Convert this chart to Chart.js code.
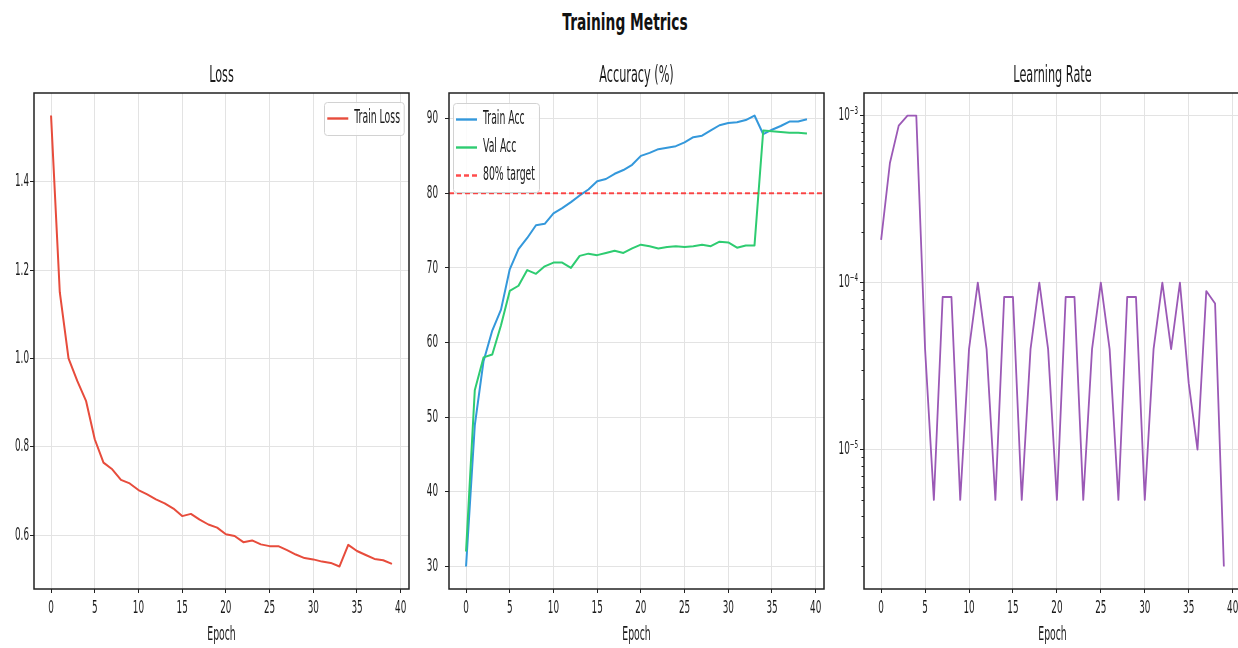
<!DOCTYPE html>
<html>
<head>
<meta charset="utf-8">
<script src="https://cdn.jsdelivr.net/npm/chart.js@4.4.1/dist/chart.umd.min.js"></script>
<style>
html,body{margin:0;padding:0;background:#fff;}
body{width:1238px;height:648px;overflow:hidden;position:relative;}
#suptitle{position:absolute;left:625px;top:10px;font-family:'DejaVu Sans',sans-serif;font-weight:bold;font-size:23px;line-height:24px;white-space:nowrap;color:#111;transform:translateX(-50%) scaleX(0.6);transform-origin:center;}
canvas{position:absolute;top:50px;}
</style>
</head>
<body>
<div id="suptitle">Training Metrics</div>
<canvas id="cLoss" width="420" height="598" style="left:0px;width:420px;height:598px"></canvas>
<canvas id="cAcc" width="415" height="598" style="left:420px;width:415px;height:598px"></canvas>
<canvas id="cLr" width="425" height="598" style="left:835px;width:425px;height:598px"></canvas>
<script>
// ---------------- data ----------------
const epochs = [0,1,2,3,4,5,6,7,8,9,10,11,12,13,14,15,16,17,18,19,20,21,22,23,24,25,26,27,28,29,30,31,32,33,34,35,36,37,38,39];
const trainLoss = [1.55,1.15,1.00,0.949,0.904,0.817,0.764,0.749,0.725,0.717,0.702,0.692,0.681,0.672,0.660,0.643,0.648,0.635,0.624,0.617,0.602,0.598,0.584,0.588,0.579,0.575,0.575,0.566,0.556,0.548,0.545,0.540,0.537,0.529,0.578,0.564,0.555,0.546,0.543,0.535];
const trainAcc = [30.0,48.9,57.5,61.6,64.4,69.8,72.5,74.0,75.7,75.9,77.3,78.0,78.8,79.7,80.5,81.6,81.9,82.6,83.1,83.8,85.0,85.4,85.9,86.1,86.3,86.8,87.5,87.7,88.4,89.1,89.4,89.5,89.8,90.4,87.9,88.5,89.0,89.6,89.6,89.9];
const valAcc = [32.0,53.6,58.0,58.4,62.3,66.9,67.6,69.7,69.2,70.2,70.7,70.7,70.0,71.6,71.9,71.7,72.0,72.3,72.0,72.6,73.1,72.9,72.6,72.8,72.9,72.8,72.9,73.1,72.9,73.5,73.4,72.7,73.0,73.0,88.4,88.3,88.2,88.1,88.1,88.0];
const targetAcc = 80;
const learningRate = [1.8e-4,5.2e-4,8.7e-4,1e-3,1e-3,4e-5,5e-6,8.2e-5,8.2e-5,5e-6,4e-5,1e-4,4e-5,5e-6,8.2e-5,8.2e-5,5e-6,4e-5,1e-4,4e-5,5e-6,8.2e-5,8.2e-5,5e-6,4e-5,1e-4,4e-5,5e-6,8.2e-5,8.2e-5,5e-6,4e-5,1e-4,4e-5,1e-4,2.5e-5,1e-5,8.9e-5,7.5e-5,2e-6];

const xTicks = [0,5,10,15,20,25,30,35,40];
const lossTicks = [0.6,0.8,1.0,1.2,1.4];
const accTicks = [30,40,50,60,70,80,90];
const lrTicks = [1e-5,1e-4,1e-3];
const lrTickLabels = ['10\u207B\u2075','10\u207B\u2074','10\u207B\u00B3'];
const lrMinorMult = [2,3,4,5,6,7,8,9];
const lrDecades = [1e-6,1e-5,1e-4,1e-3];

// ---------------- condensed text rendering (matches narrow reference lettering) ----------------
const SQUASH = 0.49;
(function(){
  const P = CanvasRenderingContext2D.prototype;
  const fill = P.fillText, measure = P.measureText;
  P.fillText = function(t, x, y, mw){
    this.save(); this.translate(x, y); this.scale(SQUASH, 1);
    if (mw === undefined || mw === null) fill.call(this, t, 0, 0); else fill.call(this, t, 0, 0, mw / SQUASH);
    this.restore();
  };
  P.measureText = function(t){
    const m = measure.call(this, t);
    return {
      width: m.width * SQUASH,
      actualBoundingBoxLeft: m.actualBoundingBoxLeft * SQUASH,
      actualBoundingBoxRight: m.actualBoundingBoxRight * SQUASH,
      actualBoundingBoxAscent: m.actualBoundingBoxAscent,
      actualBoundingBoxDescent: m.actualBoundingBoxDescent,
      fontBoundingBoxAscent: m.fontBoundingBoxAscent,
      fontBoundingBoxDescent: m.fontBoundingBoxDescent
    };
  };
})();

// ---------------- helpers ----------------
const FONT = "'DejaVu Sans', sans-serif";
const TXT = '#1a1a1a';
const GRID = '#e3e3e3';
function padRange(min, max){ const p = (max - min) * 0.05; return [min - p, max + p]; }
const xRange = padRange(Math.min(...epochs), Math.max(...epochs));
const lossRange = padRange(Math.min(...trainLoss), Math.max(...trainLoss));
const accRange = padRange(Math.min(...trainAcc, ...valAcc, targetAcc), Math.max(...trainAcc, ...valAcc, targetAcc));
const lrLog = padRange(Math.log10(Math.min(...learningRate)), Math.log10(Math.max(...learningRate)));

const lrMinorTicks = [];
lrDecades.forEach(d => lrMinorMult.forEach(m => lrMinorTicks.push(m * d)));

function xScale(){
  return {
    type: 'linear', bounds: 'data', min: xRange[0], max: xRange[1],
    afterBuildTicks: s => { s.ticks = xTicks.map(v => ({value: v})); },
    afterFit: s => { s.height = 59; },
    ticks: { font: {family: FONT, size: 18, lineHeight: 1}, color: TXT, padding: 6, maxRotation: 0, autoSkip: false, callback: v => String(v) },
    grid: { color: GRID, lineWidth: 1, tickLength: 4, tickColor: '#222', tickWidth: 1 },
    border: { display: false },
    title: { display: true, text: 'Epoch', font: {family: FONT, size: 19, lineHeight: 1}, color: TXT, padding: {top: 0, bottom: 3.5} }
  };
}
function yBase(width, pad){
  return {
    bounds: 'data',
    afterFit: s => { s.width = width; },
    ticks: { font: {family: FONT, size: 18, lineHeight: 1}, color: TXT, padding: pad, autoSkip: false },
    grid: { color: GRID, lineWidth: 1, tickLength: 4, tickColor: '#222', tickWidth: 1 },
    border: { display: false }
  };
}
function titleOpts(text){
  return { display: true, text: text, fullSize: false, color: TXT,
    font: {family: FONT, size: 23, weight: 'normal', lineHeight: 1.2}, padding: {top: 12, bottom: 3.4} };
}

function drawLegend(chart, L){
  const {ctx, chartArea: a} = chart;
  const items = chart.data.datasets;
  ctx.save();
  ctx.font = L.size + 'px ' + FONT;
  const tw = Math.max(...items.map(d => ctx.measureText(d.label).width));
  const w = L.padL + L.sample + L.gap + tw + L.padR;
  const h = L.padV * 2 + L.row * (items.length - 1);
  const x = L.side === 'right' ? a.right - L.inset - w : a.left + L.inset;
  const y = a.top + L.top;
  ctx.beginPath();
  ctx.roundRect(Math.round(x) + 0.5, Math.round(y) + 0.5, w, h, 3);
  ctx.fillStyle = 'rgba(255,255,255,0.85)';
  ctx.fill();
  ctx.strokeStyle = '#d2d2d2';
  ctx.lineWidth = 1;
  ctx.stroke();
  items.forEach((d, i) => {
    const cy = y + L.padV + i * L.row;
    ctx.save();
    ctx.strokeStyle = d.borderColor;
    ctx.lineWidth = 2.4;
    ctx.setLineDash(d.borderDash || []);
    ctx.beginPath();
    ctx.moveTo(x + L.padL, cy);
    ctx.lineTo(x + L.padL + L.sample, cy);
    ctx.stroke();
    ctx.restore();
    ctx.fillStyle = TXT;
    ctx.textAlign = 'left';
    ctx.textBaseline = 'middle';
    ctx.fillText(d.label, x + L.padL + L.sample + L.gap, cy);
  });
  ctx.restore();
}

const framePlugin = {
  id: 'frame',
  afterDraw(chart, args, o){
    const {ctx, chartArea: a} = chart;
    ctx.save();
    if (o.minorTicks){
      const ys = chart.scales.y;
      ctx.strokeStyle = '#222'; ctx.lineWidth = 1;
      o.minorTicks.forEach(v => {
        if (v < ys.min || v > ys.max) return;
        const py = Math.round(ys.getPixelForValue(v)) + 0.5;
        ctx.beginPath(); ctx.moveTo(a.left - 2.5, py); ctx.lineTo(a.left, py); ctx.stroke();
      });
    }
    ctx.strokeStyle = '#222';
    ctx.lineWidth = 1.5;
    ctx.strokeRect(a.left, a.top, a.right - a.left, a.bottom - a.top);
    ctx.restore();
    if (o.legend) drawLegend(chart, o.legend);
  }
};

const common = {
  responsive: false,
  animation: false,
  devicePixelRatio: 1,
  elements: { point: { radius: 0 }, line: { tension: 0, borderCapStyle: 'butt', borderJoinStyle: 'round' } }
};

// ---------------- Loss ----------------
new Chart(document.getElementById('cLoss'), {
  type: 'line',
  data: { labels: epochs, datasets: [
    { label: 'Train Loss', data: trainLoss, borderColor: '#e74c3c', borderWidth: 2, fill: false }
  ]},
  options: Object.assign({}, common, {
    layout: { padding: { left: 0, right: 11, top: 0, bottom: 0 } },
    scales: {
      x: xScale(),
      y: Object.assign(yBase(34, 1), {
        type: 'linear', min: lossRange[0], max: lossRange[1],
        afterBuildTicks: s => { s.ticks = lossTicks.map(v => ({value: v})); }
      })
    },
    plugins: {
      legend: { display: false }, tooltip: { enabled: false },
      title: titleOpts('Loss'),
      frame: { legend: { side: 'right', inset: 5, top: 9, padL: 3, sample: 21, gap: 6, padR: 4, padV: 16.5, row: 28, size: 19 } }
    }
  }),
  plugins: [framePlugin]
});
Chart.getChart('cLoss').options.scales.y.ticks.callback = v => v.toFixed(1);
Chart.getChart('cLoss').update();

// ---------------- Accuracy ----------------
new Chart(document.getElementById('cAcc'), {
  type: 'line',
  data: { labels: epochs, datasets: [
    { label: 'Train Acc', data: trainAcc, borderColor: '#3498db', borderWidth: 2, fill: false, order: 2 },
    { label: 'Val Acc', data: valAcc, borderColor: '#2ecc71', borderWidth: 2, fill: false, order: 1 },
    { label: '80% target', data: [{x: xRange[0], y: targetAcc}, {x: xRange[1], y: targetAcc}], borderColor: 'rgba(255,0,0,0.7)', borderWidth: 2, borderDash: [5, 3], fill: false, order: 0 }
  ]},
  options: Object.assign({}, common, {
    layout: { padding: { left: 0, right: 11, top: 0, bottom: 0 } },
    scales: {
      x: xScale(),
      y: Object.assign(yBase(29, 7), {
        type: 'linear', min: accRange[0], max: accRange[1],
        afterBuildTicks: s => { s.ticks = accTicks.map(v => ({value: v})); }
      })
    },
    plugins: {
      legend: { display: false }, tooltip: { enabled: false },
      title: titleOpts('Accuracy (%)'),
      frame: { legend: { side: 'left', inset: 4, top: 10, padL: 3, sample: 21, gap: 6, padR: 4, padV: 16.5, row: 28, size: 19 } }
    }
  }),
  plugins: [framePlugin]
});

// ---------------- Learning rate ----------------
new Chart(document.getElementById('cLr'), {
  type: 'line',
  data: { labels: epochs, datasets: [
    { label: 'Learning Rate', data: learningRate, borderColor: '#9b59b6', borderWidth: 1.8, fill: false }
  ]},
  options: Object.assign({}, common, {
    layout: { padding: { left: 0, right: 19, top: 0, bottom: 0 } },
    scales: {
      x: xScale(),
      y: Object.assign(yBase(29, 2), {
        type: 'logarithmic', min: Math.pow(10, lrLog[0]), max: Math.pow(10, lrLog[1]),
        afterBuildTicks: s => { s.ticks = lrTicks.map(v => ({value: v, major: true})); }
      })
    },
    plugins: {
      legend: { display: false }, tooltip: { enabled: false },
      title: titleOpts('Learning Rate'),
      frame: { minorTicks: lrMinorTicks }
    }
  }),
  plugins: [framePlugin]
});
Chart.getChart('cLr').options.scales.y.ticks.callback = (v, i) => lrTickLabels[i];
Chart.getChart('cLr').update();
</script>
</body>
</html>
